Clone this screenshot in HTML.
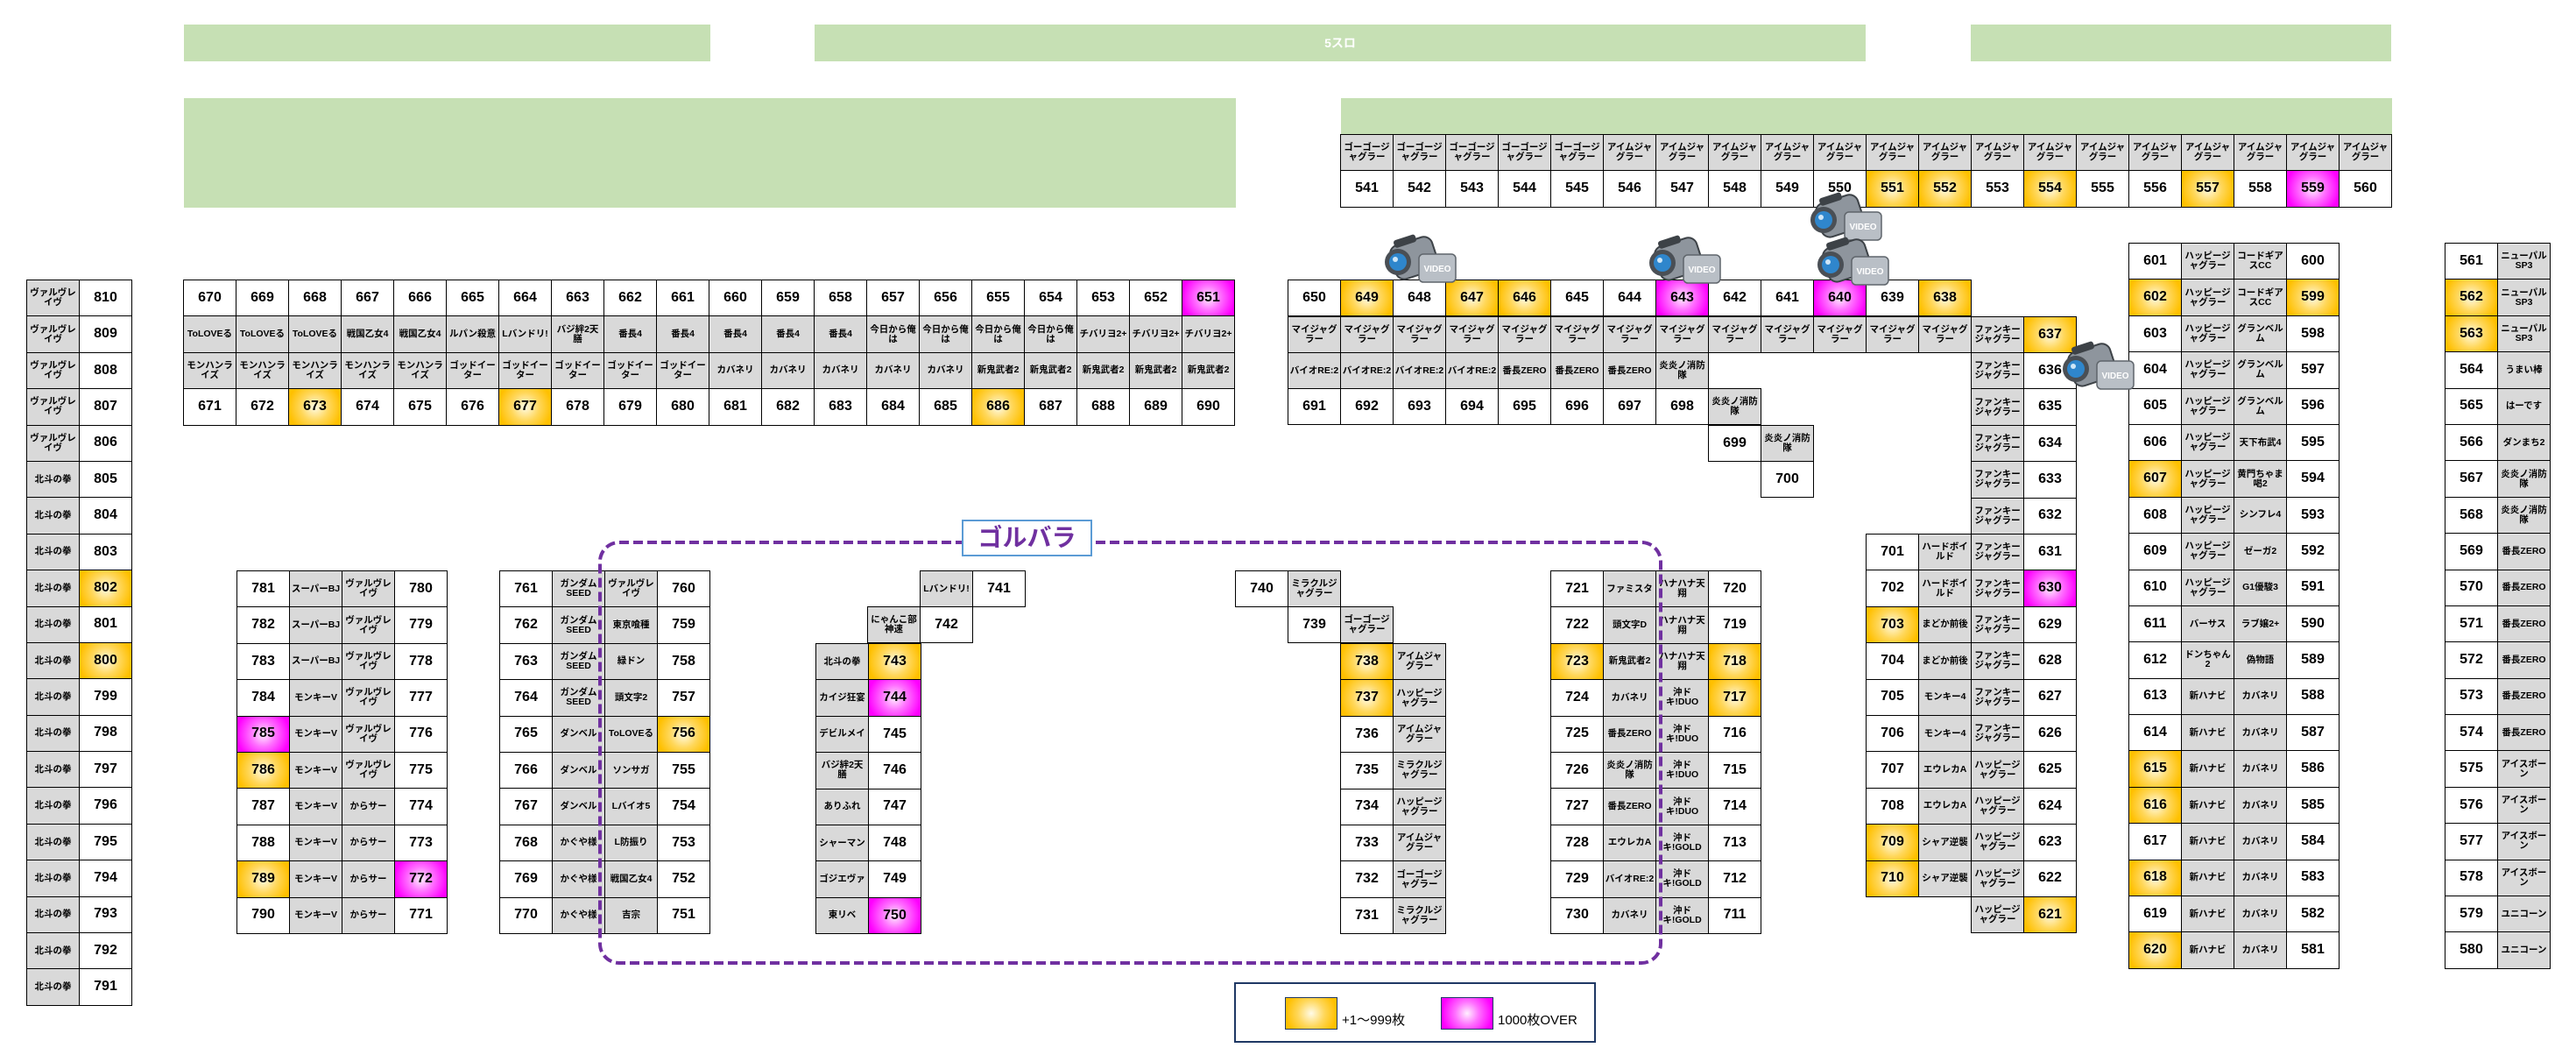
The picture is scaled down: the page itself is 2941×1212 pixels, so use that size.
<!DOCTYPE html>
<html><head><meta charset="utf-8">
<style>
body{margin:0;width:2941px;height:1212px;position:relative;background:#fff;font-family:"Liberation Sans","Noto Sans CJK JP",sans-serif;overflow:hidden}
.gr{position:absolute;background:#c6e0b4}
.b{position:absolute;display:grid;gap:1px;padding:1px;background:#000;grid-auto-rows:40.4px}
.b>c{display:flex;align-items:center;justify-content:center;text-align:center;background:#fff;font-size:16px;font-weight:bold;line-height:1.05;overflow:hidden;color:#000}
.b>c.g{background:#d9d9d9;font-size:10.5px;padding:0 1px}
.b>c.y{background:radial-gradient(circle,#fffbe8 0%,#ffd75a 45%,#ffc000 85%)}
.b>c.m{background:radial-gradient(circle,#fff0ff 0%,#ff70ff 40%,#ff00ff 85%)}
.c2{grid-template-columns:repeat(2,59px)}
.c4{grid-template-columns:repeat(4,59px)}
.cam{position:absolute;width:88px;height:60px}
</style></head><body>
<div class="gr" style="left:210px;top:28px;width:601px;height:42px"></div>
<div class="gr" style="left:930px;top:28px;width:1200px;height:42px;color:#fff;font-weight:bold;font-size:14px;text-align:center;line-height:42px">5スロ</div>
<div class="gr" style="left:2250px;top:28px;width:480px;height:42px"></div>
<div class="gr" style="left:210px;top:112px;width:1201px;height:125px"></div>
<div class="gr" style="left:1531px;top:112px;width:1200px;height:42px"></div>

<!-- top block -->
<div class="b" style="left:209px;top:319px;grid-template-columns:repeat(20,59px)">
<c>670</c><c>669</c><c>668</c><c>667</c><c>666</c><c>665</c><c>664</c><c>663</c><c>662</c><c>661</c><c>660</c><c>659</c><c>658</c><c>657</c><c>656</c><c>655</c><c>654</c><c>653</c><c>652</c><c class="m">651</c>
<c class="g">ToLOVEる</c><c class="g">ToLOVEる</c><c class="g">ToLOVEる</c><c class="g">戦国乙女4</c><c class="g">戦国乙女4</c><c class="g">ルパン殺意</c><c class="g">Lバンドリ!</c><c class="g">バジ絆2天膳</c><c class="g">番長4</c><c class="g">番長4</c><c class="g">番長4</c><c class="g">番長4</c><c class="g">番長4</c><c class="g">今日から俺は</c><c class="g">今日から俺は</c><c class="g">今日から俺は</c><c class="g">今日から俺は</c><c class="g">チバリヨ2+</c><c class="g">チバリヨ2+</c><c class="g">チバリヨ2+</c>
<c class="g">モンハンライズ</c><c class="g">モンハンライズ</c><c class="g">モンハンライズ</c><c class="g">モンハンライズ</c><c class="g">モンハンライズ</c><c class="g">ゴッドイーター</c><c class="g">ゴッドイーター</c><c class="g">ゴッドイーター</c><c class="g">ゴッドイーター</c><c class="g">ゴッドイーター</c><c class="g">カバネリ</c><c class="g">カバネリ</c><c class="g">カバネリ</c><c class="g">カバネリ</c><c class="g">カバネリ</c><c class="g">新鬼武者2</c><c class="g">新鬼武者2</c><c class="g">新鬼武者2</c><c class="g">新鬼武者2</c><c class="g">新鬼武者2</c>
<c>671</c><c>672</c><c class="y">673</c><c>674</c><c>675</c><c>676</c><c class="y">677</c><c>678</c><c>679</c><c>680</c><c>681</c><c>682</c><c>683</c><c>684</c><c>685</c><c class="y">686</c><c>687</c><c>688</c><c>689</c><c>690</c>
</div>

<!-- left column -->
<div class="b c2" style="left:30px;top:319px">
<c class="g">ヴァルヴレイヴ</c><c>810</c><c class="g">ヴァルヴレイヴ</c><c>809</c><c class="g">ヴァルヴレイヴ</c><c>808</c><c class="g">ヴァルヴレイヴ</c><c>807</c><c class="g">ヴァルヴレイヴ</c><c>806</c>
<c class="g">北斗の拳</c><c>805</c><c class="g">北斗の拳</c><c>804</c><c class="g">北斗の拳</c><c>803</c><c class="g">北斗の拳</c><c class="y">802</c><c class="g">北斗の拳</c><c>801</c>
<c class="g">北斗の拳</c><c class="y">800</c><c class="g">北斗の拳</c><c>799</c><c class="g">北斗の拳</c><c>798</c><c class="g">北斗の拳</c><c>797</c><c class="g">北斗の拳</c><c>796</c>
<c class="g">北斗の拳</c><c>795</c><c class="g">北斗の拳</c><c>794</c><c class="g">北斗の拳</c><c>793</c><c class="g">北斗の拳</c><c>792</c><c class="g">北斗の拳</c><c>791</c>
</div>

<!-- 781 block -->
<div class="b c4" style="left:270px;top:651px">
<c>781</c><c class="g">スーパーBJ</c><c class="g">ヴァルヴレイヴ</c><c>780</c>
<c>782</c><c class="g">スーパーBJ</c><c class="g">ヴァルヴレイヴ</c><c>779</c>
<c>783</c><c class="g">スーパーBJ</c><c class="g">ヴァルヴレイヴ</c><c>778</c>
<c>784</c><c class="g">モンキーV</c><c class="g">ヴァルヴレイヴ</c><c>777</c>
<c class="m">785</c><c class="g">モンキーV</c><c class="g">ヴァルヴレイヴ</c><c>776</c>
<c class="y">786</c><c class="g">モンキーV</c><c class="g">ヴァルヴレイヴ</c><c>775</c>
<c>787</c><c class="g">モンキーV</c><c class="g">からサー</c><c>774</c>
<c>788</c><c class="g">モンキーV</c><c class="g">からサー</c><c>773</c>
<c class="y">789</c><c class="g">モンキーV</c><c class="g">からサー</c><c class="m">772</c>
<c>790</c><c class="g">モンキーV</c><c class="g">からサー</c><c>771</c>
</div>

<!-- 761 block -->
<div class="b c4" style="left:570px;top:651px">
<c>761</c><c class="g">ガンダムSEED</c><c class="g">ヴァルヴレイヴ</c><c>760</c>
<c>762</c><c class="g">ガンダムSEED</c><c class="g">東京喰種</c><c>759</c>
<c>763</c><c class="g">ガンダムSEED</c><c class="g">緑ドン</c><c>758</c>
<c>764</c><c class="g">ガンダムSEED</c><c class="g">頭文字2</c><c>757</c>
<c>765</c><c class="g">ダンベル</c><c class="g">ToLOVEる</c><c class="y">756</c>
<c>766</c><c class="g">ダンベル</c><c class="g">ソンサガ</c><c>755</c>
<c>767</c><c class="g">ダンベル</c><c class="g">Lバイオ5</c><c>754</c>
<c>768</c><c class="g">かぐや様</c><c class="g">L防振り</c><c>753</c>
<c>769</c><c class="g">かぐや様</c><c class="g">戦国乙女4</c><c>752</c>
<c>770</c><c class="g">かぐや様</c><c class="g">吉宗</c><c>751</c>
</div>

<!-- 741-750 -->
<div class="b c2" style="left:1050px;top:651px"><c class="g">Lバンドリ!</c><c>741</c></div>
<div class="b c2" style="left:990px;top:692px"><c class="g">にゃんこ部神速</c><c>742</c></div>
<div class="b c2" style="left:931px;top:734px">
<c class="g">北斗の拳</c><c class="y">743</c><c class="g">カイジ狂宴</c><c class="m">744</c><c class="g">デビルメイ</c><c>745</c><c class="g">バジ絆2天膳</c><c>746</c>
<c class="g">ありふれ</c><c>747</c><c class="g">シャーマン</c><c>748</c><c class="g">ゴジエヴァ</c><c>749</c><c class="g">東リベ</c><c class="m">750</c>
</div>

<!-- 731-740 -->
<div class="b c2" style="left:1410px;top:651px"><c>740</c><c class="g">ミラクルジャグラー</c></div>
<div class="b c2" style="left:1470px;top:692px"><c>739</c><c class="g">ゴーゴージャグラー</c></div>
<div class="b c2" style="left:1530px;top:734px">
<c class="y">738</c><c class="g">アイムジャグラー</c><c class="y">737</c><c class="g">ハッピージャグラー</c><c>736</c><c class="g">アイムジャグラー</c><c>735</c><c class="g">ミラクルジャグラー</c>
<c>734</c><c class="g">ハッピージャグラー</c><c>733</c><c class="g">アイムジャグラー</c><c>732</c><c class="g">ゴーゴージャグラー</c><c>731</c><c class="g">ミラクルジャグラー</c>
</div>

<!-- 721 block -->
<div class="b c4" style="left:1770px;top:651px">
<c>721</c><c class="g">ファミスタ</c><c class="g">ハナハナ天翔</c><c>720</c>
<c>722</c><c class="g">頭文字D</c><c class="g">ハナハナ天翔</c><c>719</c>
<c class="y">723</c><c class="g">新鬼武者2</c><c class="g">ハナハナ天翔</c><c class="y">718</c>
<c>724</c><c class="g">カバネリ</c><c class="g">沖ドキ!DUO</c><c class="y">717</c>
<c>725</c><c class="g">番長ZERO</c><c class="g">沖ドキ!DUO</c><c>716</c>
<c>726</c><c class="g">炎炎ノ消防隊</c><c class="g">沖ドキ!DUO</c><c>715</c>
<c>727</c><c class="g">番長ZERO</c><c class="g">沖ドキ!DUO</c><c>714</c>
<c>728</c><c class="g">エウレカA</c><c class="g">沖ドキ!GOLD</c><c>713</c>
<c>729</c><c class="g">バイオRE:2</c><c class="g">沖ドキ!GOLD</c><c>712</c>
<c>730</c><c class="g">カバネリ</c><c class="g">沖ドキ!GOLD</c><c>711</c>
</div>

<!-- 638-650 area -->
<div class="b" style="left:1470px;top:319px;grid-template-columns:repeat(13,59px)">
<c>650</c><c class="y">649</c><c>648</c><c class="y">647</c><c class="y">646</c><c>645</c><c>644</c><c class="m">643</c><c>642</c><c>641</c><c class="m">640</c><c>639</c><c class="y">638</c>
</div>
<div class="b" style="left:1470px;top:361px;grid-template-columns:repeat(15,59px)">
<c class="g">マイジャグラー</c><c class="g">マイジャグラー</c><c class="g">マイジャグラー</c><c class="g">マイジャグラー</c><c class="g">マイジャグラー</c><c class="g">マイジャグラー</c><c class="g">マイジャグラー</c><c class="g">マイジャグラー</c><c class="g">マイジャグラー</c><c class="g">マイジャグラー</c><c class="g">マイジャグラー</c><c class="g">マイジャグラー</c><c class="g">マイジャグラー</c><c class="g">ファンキージャグラー</c><c class="y">637</c>
</div>
<div class="b" style="left:1470px;top:402px;grid-template-columns:repeat(8,59px)">
<c class="g">バイオRE:2</c><c class="g">バイオRE:2</c><c class="g">バイオRE:2</c><c class="g">バイオRE:2</c><c class="g">番長ZERO</c><c class="g">番長ZERO</c><c class="g">番長ZERO</c><c class="g">炎炎ノ消防隊</c>
</div>
<div class="b" style="left:1470px;top:443px;grid-template-columns:repeat(9,59px)">
<c>691</c><c>692</c><c>693</c><c>694</c><c>695</c><c>696</c><c>697</c><c>698</c><c class="g">炎炎ノ消防隊</c>
</div>
<div class="b c2" style="left:1950px;top:485px"><c>699</c><c class="g">炎炎ノ消防隊</c></div>
<div class="b" style="left:2010px;top:526px;grid-template-columns:59px"><c>700</c></div>

<!-- funky column + 701 block -->
<div class="b c2" style="left:2250px;top:402px">
<c class="g">ファンキージャグラー</c><c>636</c><c class="g">ファンキージャグラー</c><c>635</c><c class="g">ファンキージャグラー</c><c>634</c><c class="g">ファンキージャグラー</c><c>633</c><c class="g">ファンキージャグラー</c><c>632</c>
</div>
<div class="b c4" style="left:2130px;top:609px">
<c>701</c><c class="g">ハードボイルド</c><c class="g">ファンキージャグラー</c><c>631</c>
<c>702</c><c class="g">ハードボイルド</c><c class="g">ファンキージャグラー</c><c class="m">630</c>
<c class="y">703</c><c class="g">まどか前後</c><c class="g">ファンキージャグラー</c><c>629</c>
<c>704</c><c class="g">まどか前後</c><c class="g">ファンキージャグラー</c><c>628</c>
<c>705</c><c class="g">モンキー4</c><c class="g">ファンキージャグラー</c><c>627</c>
<c>706</c><c class="g">モンキー4</c><c class="g">ファンキージャグラー</c><c>626</c>
<c>707</c><c class="g">エウレカA</c><c class="g">ハッピージャグラー</c><c>625</c>
<c>708</c><c class="g">エウレカA</c><c class="g">ハッピージャグラー</c><c>624</c>
<c class="y">709</c><c class="g">シャア逆襲</c><c class="g">ハッピージャグラー</c><c>623</c>
<c class="y">710</c><c class="g">シャア逆襲</c><c class="g">ハッピージャグラー</c><c>622</c>
</div>
<div class="b c2" style="left:2250px;top:1023px"><c class="g">ハッピージャグラー</c><c class="y">621</c></div>

<!-- 541 block -->
<div class="b" style="left:1530px;top:153px;grid-template-columns:repeat(20,59px)">
<c class="g">ゴーゴージャグラー</c><c class="g">ゴーゴージャグラー</c><c class="g">ゴーゴージャグラー</c><c class="g">ゴーゴージャグラー</c><c class="g">ゴーゴージャグラー</c><c class="g">アイムジャグラー</c><c class="g">アイムジャグラー</c><c class="g">アイムジャグラー</c><c class="g">アイムジャグラー</c><c class="g">アイムジャグラー</c><c class="g">アイムジャグラー</c><c class="g">アイムジャグラー</c><c class="g">アイムジャグラー</c><c class="g">アイムジャグラー</c><c class="g">アイムジャグラー</c><c class="g">アイムジャグラー</c><c class="g">アイムジャグラー</c><c class="g">アイムジャグラー</c><c class="g">アイムジャグラー</c><c class="g">アイムジャグラー</c>
<c>541</c><c>542</c><c>543</c><c>544</c><c>545</c><c>546</c><c>547</c><c>548</c><c>549</c><c>550</c><c class="y">551</c><c class="y">552</c><c>553</c><c class="y">554</c><c>555</c><c>556</c><c class="y">557</c><c>558</c><c class="m">559</c><c>560</c>
</div>

<!-- 601 block -->
<div class="b c4" style="left:2430px;top:277px">
<c>601</c><c class="g">ハッピージャグラー</c><c class="g">コードギアスCC</c><c>600</c>
<c class="y">602</c><c class="g">ハッピージャグラー</c><c class="g">コードギアスCC</c><c class="y">599</c>
<c>603</c><c class="g">ハッピージャグラー</c><c class="g">グランベルム</c><c>598</c>
<c>604</c><c class="g">ハッピージャグラー</c><c class="g">グランベルム</c><c>597</c>
<c>605</c><c class="g">ハッピージャグラー</c><c class="g">グランベルム</c><c>596</c>
<c>606</c><c class="g">ハッピージャグラー</c><c class="g">天下布武4</c><c>595</c>
<c class="y">607</c><c class="g">ハッピージャグラー</c><c class="g">黄門ちゃま喝2</c><c>594</c>
<c>608</c><c class="g">ハッピージャグラー</c><c class="g">シンフレ4</c><c>593</c>
<c>609</c><c class="g">ハッピージャグラー</c><c class="g">ゼーガ2</c><c>592</c>
<c>610</c><c class="g">ハッピージャグラー</c><c class="g">G1優駿3</c><c>591</c>
<c>611</c><c class="g">バーサス</c><c class="g">ラブ嬢2+</c><c>590</c>
<c>612</c><c class="g">ドンちゃん2</c><c class="g">偽物語</c><c>589</c>
<c>613</c><c class="g">新ハナビ</c><c class="g">カバネリ</c><c>588</c>
<c>614</c><c class="g">新ハナビ</c><c class="g">カバネリ</c><c>587</c>
<c class="y">615</c><c class="g">新ハナビ</c><c class="g">カバネリ</c><c>586</c>
<c class="y">616</c><c class="g">新ハナビ</c><c class="g">カバネリ</c><c>585</c>
<c>617</c><c class="g">新ハナビ</c><c class="g">カバネリ</c><c>584</c>
<c class="y">618</c><c class="g">新ハナビ</c><c class="g">カバネリ</c><c>583</c>
<c>619</c><c class="g">新ハナビ</c><c class="g">カバネリ</c><c>582</c>
<c class="y">620</c><c class="g">新ハナビ</c><c class="g">カバネリ</c><c>581</c>
</div>

<!-- 561 block -->
<div class="b c2" style="left:2791px;top:277px">
<c>561</c><c class="g">ニューパルSP3</c><c class="y">562</c><c class="g">ニューパルSP3</c><c class="y">563</c><c class="g">ニューパルSP3</c><c>564</c><c class="g">うまい棒</c><c>565</c><c class="g">はーです</c>
<c>566</c><c class="g">ダンまち2</c><c>567</c><c class="g">炎炎ノ消防隊</c><c>568</c><c class="g">炎炎ノ消防隊</c><c>569</c><c class="g">番長ZERO</c><c>570</c><c class="g">番長ZERO</c>
<c>571</c><c class="g">番長ZERO</c><c>572</c><c class="g">番長ZERO</c><c>573</c><c class="g">番長ZERO</c><c>574</c><c class="g">番長ZERO</c><c>575</c><c class="g">アイスボーン</c>
<c>576</c><c class="g">アイスボーン</c><c>577</c><c class="g">アイスボーン</c><c>578</c><c class="g">アイスボーン</c><c>579</c><c class="g">ユニコーン</c><c>580</c><c class="g">ユニコーン</c>
</div>

<!-- dashed group -->
<svg style="position:absolute;left:0;top:0" width="2941" height="1212">
<rect x="685" y="619" width="1211" height="480" rx="22" fill="none" stroke="#7030a0" stroke-width="4" stroke-dasharray="11 5"/>
</svg>
<div style="position:absolute;left:1098px;top:593px;width:145px;height:38px;background:#fff;border:2px solid #5b9bd5;color:#7030a0;font-weight:bold;font-size:28px;text-align:center;line-height:38px">ゴルバラ</div>

<!-- legend -->
<div style="position:absolute;left:1409px;top:1121px;width:409px;height:65px;border:2px solid #1f3864;background:#fff"></div>
<div style="position:absolute;left:1467px;top:1138px;width:58px;height:35px;border:1px solid #1f3864;background:radial-gradient(circle,#fffbe8 0%,#ffd75a 45%,#ffc000 85%)"></div>
<div style="position:absolute;left:1532px;top:1156px;font-size:15px;line-height:18px">+1～999枚</div>
<div style="position:absolute;left:1645px;top:1138px;width:58px;height:35px;border:1px solid #1f3864;background:radial-gradient(circle,#fff0ff 0%,#ff70ff 40%,#ff00ff 85%)"></div>
<div style="position:absolute;left:1710px;top:1156px;font-size:15px;line-height:18px">1000枚OVER</div>

<!-- cameras -->
<svg class="cam" style="left:1576px;top:266px" viewBox="0 0 88 60"><g transform="rotate(-18 40 30)"><rect x="14" y="8" width="50" height="40" rx="10" fill="#8e959d" stroke="#3d4247" stroke-width="2"/><rect x="22" y="2" width="26" height="9" rx="3" fill="#3d4247"/></g><circle cx="20" cy="33" r="15" fill="#4a4f55"/><circle cx="20" cy="33" r="10" fill="#2f86cc"/><circle cx="17" cy="30" r="3" fill="#cfe6f7"/><rect x="44" y="24" width="42" height="32" rx="5" fill="#b9bfc6" stroke="#5f656b" stroke-width="1.5"/><text x="65" y="44" font-size="10" font-weight="bold" fill="#fff" text-anchor="middle" font-family="Liberation Sans,sans-serif">VIDEO</text></svg>
<svg class="cam" style="left:1878px;top:267px" viewBox="0 0 88 60"><g transform="rotate(-18 40 30)"><rect x="14" y="8" width="50" height="40" rx="10" fill="#8e959d" stroke="#3d4247" stroke-width="2"/><rect x="22" y="2" width="26" height="9" rx="3" fill="#3d4247"/></g><circle cx="20" cy="33" r="15" fill="#4a4f55"/><circle cx="20" cy="33" r="10" fill="#2f86cc"/><circle cx="17" cy="30" r="3" fill="#cfe6f7"/><rect x="44" y="24" width="42" height="32" rx="5" fill="#b9bfc6" stroke="#5f656b" stroke-width="1.5"/><text x="65" y="44" font-size="10" font-weight="bold" fill="#fff" text-anchor="middle" font-family="Liberation Sans,sans-serif">VIDEO</text></svg>
<svg class="cam" style="left:2062px;top:218px" viewBox="0 0 88 60"><g transform="rotate(-18 40 30)"><rect x="14" y="8" width="50" height="40" rx="10" fill="#8e959d" stroke="#3d4247" stroke-width="2"/><rect x="22" y="2" width="26" height="9" rx="3" fill="#3d4247"/></g><circle cx="20" cy="33" r="15" fill="#4a4f55"/><circle cx="20" cy="33" r="10" fill="#2f86cc"/><circle cx="17" cy="30" r="3" fill="#cfe6f7"/><rect x="44" y="24" width="42" height="32" rx="5" fill="#b9bfc6" stroke="#5f656b" stroke-width="1.5"/><text x="65" y="44" font-size="10" font-weight="bold" fill="#fff" text-anchor="middle" font-family="Liberation Sans,sans-serif">VIDEO</text></svg>
<svg class="cam" style="left:2070px;top:269px" viewBox="0 0 88 60"><g transform="rotate(-18 40 30)"><rect x="14" y="8" width="50" height="40" rx="10" fill="#8e959d" stroke="#3d4247" stroke-width="2"/><rect x="22" y="2" width="26" height="9" rx="3" fill="#3d4247"/></g><circle cx="20" cy="33" r="15" fill="#4a4f55"/><circle cx="20" cy="33" r="10" fill="#2f86cc"/><circle cx="17" cy="30" r="3" fill="#cfe6f7"/><rect x="44" y="24" width="42" height="32" rx="5" fill="#b9bfc6" stroke="#5f656b" stroke-width="1.5"/><text x="65" y="44" font-size="10" font-weight="bold" fill="#fff" text-anchor="middle" font-family="Liberation Sans,sans-serif">VIDEO</text></svg>
<svg class="cam" style="left:2350px;top:388px" viewBox="0 0 88 60"><g transform="rotate(-18 40 30)"><rect x="14" y="8" width="50" height="40" rx="10" fill="#8e959d" stroke="#3d4247" stroke-width="2"/><rect x="22" y="2" width="26" height="9" rx="3" fill="#3d4247"/></g><circle cx="20" cy="33" r="15" fill="#4a4f55"/><circle cx="20" cy="33" r="10" fill="#2f86cc"/><circle cx="17" cy="30" r="3" fill="#cfe6f7"/><rect x="44" y="24" width="42" height="32" rx="5" fill="#b9bfc6" stroke="#5f656b" stroke-width="1.5"/><text x="65" y="44" font-size="10" font-weight="bold" fill="#fff" text-anchor="middle" font-family="Liberation Sans,sans-serif">VIDEO</text></svg>
</body></html>
